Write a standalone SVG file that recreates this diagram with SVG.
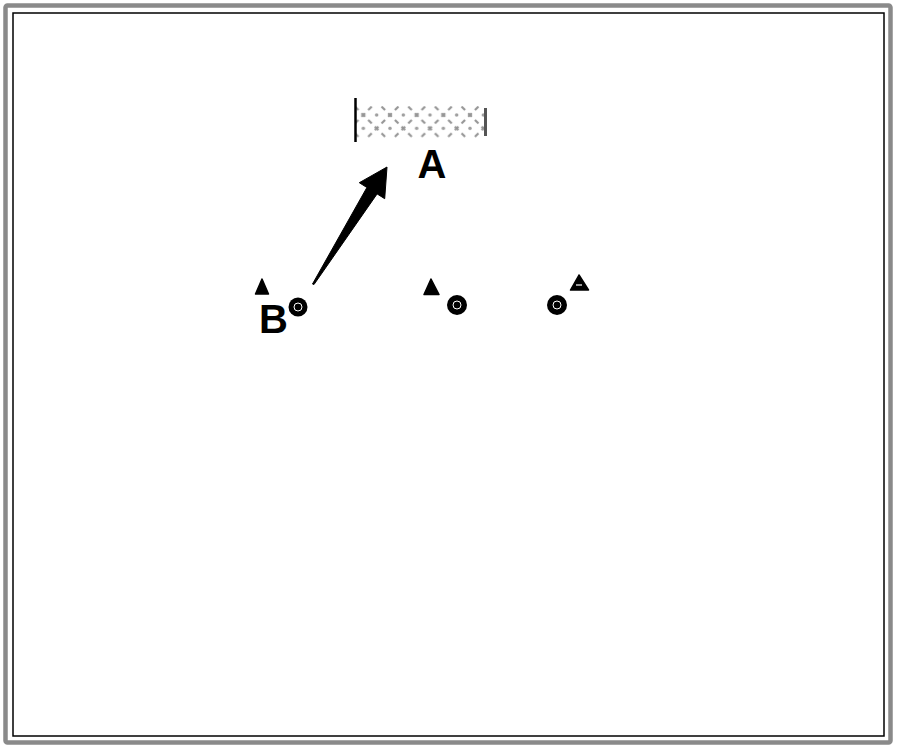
<svg xmlns="http://www.w3.org/2000/svg" width="900" height="752" viewBox="0 0 900 752">
  <defs>
    <style>
      .lbl { font-family: "Liberation Sans", Arial, sans-serif; font-size: 40px; font-weight: bold; fill: #000; }
      .tri { fill: #000; stroke: #000; stroke-width: 1.5; stroke-linejoin: round; }
      .dot { fill: #000; }
      .ring { fill: none; stroke: #fff; stroke-width: 1; }
      .hx { stroke: #959595; stroke-width: 2.2; stroke-dasharray: 5 4.43; stroke-dashoffset: 2.5; }
      .hd { fill: #a0a0a0; }
    </style>
    <pattern id="hatch" patternUnits="userSpaceOnUse" x="416.67" y="115" width="26.67" height="26.67">
      <path class="hx" d="M0,0 L26.67,26.67 M26.67,0 L0,26.67"/>
      <circle class="hd" cx="13.33" cy="0" r="1.8"/>
      <circle class="hd" cx="13.33" cy="26.67" r="1.8"/>
      <circle class="hd" cx="0" cy="13.33" r="1.8"/>
      <circle class="hd" cx="26.67" cy="13.33" r="1.8"/>
    </pattern>
  </defs>

  <rect width="900" height="752" fill="#fff"/>

  <g id="frame">
    <rect x="5.5" y="5.5" width="885" height="737" fill="none" stroke="#8a8a8a" stroke-width="4.5" rx="2"/>
    <rect x="13" y="13" width="871" height="723" fill="none" stroke="#000" stroke-width="1.5"/>
  </g>

  <g id="node-A">
    <rect x="356" y="106" width="131" height="32" fill="url(#hatch)"/>
    <line x1="355.5" y1="98" x2="355.5" y2="142" stroke="#000" stroke-width="2.5"/>
    <line x1="485.5" y1="108" x2="485.5" y2="136" stroke="#555" stroke-width="3"/>
    <text class="lbl" x="432" y="178" text-anchor="middle">A</text>
  </g>

  <g id="node-B">
    <path class="tri" d="M262,279 L255.5,294 L268.5,294 Z"/>
    <circle class="dot" cx="298" cy="307" r="9.5"/>
    <circle class="ring" cx="298" cy="307" r="4"/>
    <text class="lbl" x="259" y="333">B</text>
  </g>

  <g id="node-C">
    <path class="tri" d="M431,279 L424,294.5 L439,294.5 Z"/>
    <circle class="dot" cx="457" cy="305" r="10"/>
    <circle class="ring" cx="457" cy="305" r="4"/>
  </g>

  <g id="node-D">
    <path class="tri" d="M579,275 L570.5,290 L588.5,290 Z"/>
    <line x1="576" y1="285" x2="582" y2="285" stroke="#fff" stroke-width="1.2"/>
    <circle class="dot" cx="557" cy="305" r="10"/>
    <circle class="ring" cx="557" cy="305" r="4"/>
  </g>

  <g id="connectors">
    <path d="M312.5,284 L366.9,187.5 L359.3,182.7 L387,167 L384.7,198.7 L377.1,193.9 L314,284.5 Z" fill="#000" stroke="#000" stroke-width="1" stroke-linejoin="round"/>
  </g>
</svg>
